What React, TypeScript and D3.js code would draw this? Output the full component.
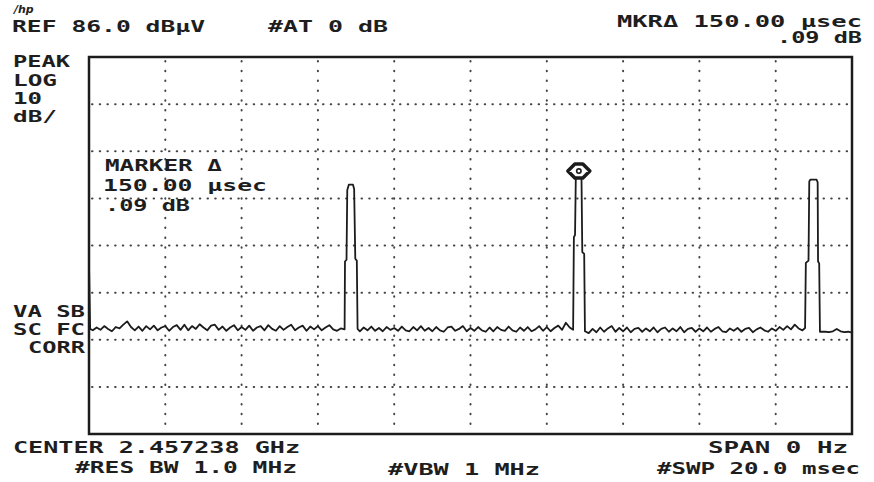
import * as d3 from 'd3'
import * as React from 'react'

//------------------------------data------------------------------
const W = 874
const H = 482
const REF_LEVEL = 86 // dBµV, top of screen
const DB_PER_DIV = 10
const SWEEP_MS = 20
const SAMPLE_MS = 0.1

const gridLevels = [76, 66, 56, 46, 36, 26, 16]
const gridTimes = [2, 4, 6, 8, 10, 12, 14, 16, 18]

// noise floor read every 0.1 ms across the 20 ms sweep (dBµV)
const noiseLevel = [
  42.0, 28.0, 28.6, 28.1, 28.9, 28.3, 27.8, 28.7, 28.4, 29.2,
  29.9, 28.7, 28.0, 28.8, 27.9, 28.9, 28.2, 29.0, 28.0, 28.6,
  28.9, 27.9, 28.7, 29.1, 28.1, 29.2, 28.0, 28.9, 28.3, 29.3,
  28.6, 28.0, 29.0, 29.2, 28.1, 28.8, 27.9, 28.6, 29.1, 28.0,
  28.7, 28.1, 29.0, 27.9, 28.6, 28.9, 28.0, 29.1, 28.3, 27.9,
  28.9, 28.1, 28.7, 29.2, 28.0, 28.6, 29.0, 27.9, 28.8, 28.2,
  28.9, 28.0, 28.6, 29.1, 28.2, 27.9, 28.4, 28.0, 28.0, 28.0,
  28.0, 27.8, 28.6, 28.0, 28.8, 27.9, 28.5, 27.8, 28.7, 28.1,
  28.5, 27.9, 28.8, 28.0, 27.8, 28.7, 28.0, 28.9, 27.9, 28.5,
  27.8, 28.7, 28.0, 27.7, 28.6, 28.8, 27.9, 28.3, 28.9, 27.8,
  28.5, 27.9, 28.7, 28.0, 27.7, 28.6, 27.8, 28.7, 28.1, 27.9,
  28.8, 28.0, 27.7, 28.6, 27.9, 28.7, 27.8, 28.2, 28.9, 27.9,
  28.7, 27.8, 28.5, 29.0, 28.1, 29.6, 28.6, 28.0, 28.0, 28.0,
  28.0, 27.4, 28.3, 27.6, 28.6, 27.7, 28.4, 28.9, 27.7, 28.5,
  27.8, 28.6, 27.6, 28.3, 28.5, 27.7, 28.4, 27.8, 28.6, 27.6,
  28.3, 28.6, 27.7, 28.4, 27.8, 28.7, 27.6, 28.3, 28.5, 27.7,
  28.4, 27.8, 28.6, 27.7, 28.3, 28.7, 27.8, 27.6, 28.4, 27.9,
  28.5, 27.7, 28.3, 28.5, 27.6, 28.2, 28.6, 28.0, 27.7, 28.4,
  27.9, 28.7, 28.1, 28.9, 28.2, 29.2, 28.4, 28.0, 28.0, 28.0,
  28.0, 28.0, 27.7, 27.7, 27.6, 27.8, 28.3, 27.8, 27.6, 27.7,
  27.5
]

// trace start and pulse outlines [ms, dBµV]
const sweepStart = [[0.0, 42.0], [0.03, 28.3]]
const pulse1 = [
  [6.70, 28.2], [6.71, 42.6], [6.75, 43.0], [6.77, 57.8], [6.81, 58.9],
  [6.92, 58.9], [6.95, 58.0], [6.98, 43.2], [7.02, 42.8], [7.04, 28.3]
]
const pulse2 = [
  [12.69, 28.1], [12.71, 47.8], [12.74, 48.2], [12.76, 60.2], [12.80, 61.2],
  [12.88, 61.2], [12.91, 60.0], [12.93, 44.6], [12.98, 44.2], [13.00, 27.8]
]
const pulse3 = [
  [18.77, 28.5], [18.79, 42.3], [18.86, 42.8], [18.88, 59.6], [18.91, 60.0],
  [19.07, 60.0], [19.10, 59.4], [19.11, 42.6], [19.14, 42.2], [19.16, 27.7]
]
const pulses = [sweepStart, pulse1, pulse2, pulse3]

const marker = { ms: 12.84, level: 61.8 }

const headerLeft = ['REF 86.0 dBµV', '#AT 0 dB']
const headerRight = ['MKRΔ 150.00 µsec', '.09 dB']
const modeLabels = ['PEAK', 'LOG', '10', 'dB/']
const markerLabels = ['MARKER Δ', '150.00 µsec', '.09 dB']
const statusLabels = ['VA SB', 'SC FC', 'CORR']
const footerLabels = ['CENTER 2.457238 GHz', '#RES BW 1.0 MHz', '#VBW 1 MHz', 'SPAN 0 Hz', '#SWP 20.0 msec']

//------------------------------trace------------------------------
const buildTrace = () => {
  const inPulse = (t: number) =>
    pulses.some(p => t >= p[0][0] - 0.02 && t <= p[p.length - 1][0] + 0.02)
  const pts: [number, number][] = noiseLevel
    .map((v, i) => [i * SAMPLE_MS, v] as [number, number])
    .filter(d => !inPulse(d[0]))
  pulses.forEach(p => p.forEach(d => pts.push([d[0], d[1]])))
  return pts.sort((a, b) => a[0] - b[0])
}

//------------------------------Component------------------------------
export default function App() {
  const left = 89
  const right = 852
  const top = 57
  const bottom = 434

  const x = d3.scaleLinear().domain([0, SWEEP_MS]).range([left, right])
  const y = d3
    .scaleLinear()
    .domain([REF_LEVEL - 8 * DB_PER_DIV, REF_LEVEL])
    .range([bottom, top])

  const trace = buildTrace()
  const line = d3
    .line<[number, number]>()
    .x(d => x(d[0]))
    .y(d => y(d[1]))

  const mx = x(marker.ms)
  const my = y(marker.level)

  const font = {
    fontFamily: '"DejaVu Sans Mono", monospace',
    fontSize: 15,
    fontWeight: 'bold' as const,
    fill: '#1e1e1e'
  }

  const label = (t: string, tx: number, ty: number, len: number, key: string) => (
    <text key={key} x={tx} y={ty} textLength={len} lengthAdjust="spacingAndGlyphs" {...font}>
      {t}
    </text>
  )

  return (
    <svg
      width={W}
      height={H}
      style={{ position: 'absolute', left: 0, top: 0, background: '#fff' }}
    >
      <rect x={0} y={0} width={W} height={H} fill="#fff" />
      {/* hp logo */}
      <text x={14} y={13} fontFamily="DejaVu Sans" fontStyle="italic" fontWeight="bold" fontSize={11} fill="#222">
        /hp
      </text>

      {label(headerLeft[0], 12, 32, 193, 'h0')}
      {label(headerLeft[1], 268, 32, 120, 'h1')}
      {label(headerRight[0], 617, 27, 245, 'r0')}
      {label(headerRight[1], 777, 43, 85, 'r1')}

      {label(modeLabels[0], 13, 67, 57, 'm0')}
      {label(modeLabels[1], 13, 86, 44, 'm1')}
      {label(modeLabels[2], 13, 104, 29, 'm2')}
      {label(modeLabels[3], 13, 122, 44, 'm3')}

      {label(statusLabels[0], 13, 317, 72, 's0')}
      {label(statusLabels[1], 13, 335, 72, 's1')}
      {label(statusLabels[2], 28, 353, 57, 's2')}

      {label(footerLabels[0], 13, 453, 287, 'f0')}
      {label(footerLabels[1], 75, 473, 222, 'f1')}
      {label(footerLabels[2], 388, 475, 152, 'f2')}
      {label(footerLabels[3], 708, 453, 140, 'f3')}
      {label(footerLabels[4], 657, 474, 203, 'f4')}

      {/* grid */}
      <g stroke="#444" strokeWidth={2} strokeLinecap="round">
        {gridLevels.map(v => (
          <line key={'gy' + v} x1={left + 3} x2={right - 3} y1={y(v)} y2={y(v)} strokeDasharray="0.5 7.2" />
        ))}
        {gridTimes.map(t => (
          <line key={'gx' + t} x1={x(t)} x2={x(t)} y1={top + 4} y2={bottom - 3} strokeDasharray="0.5 9.3" />
        ))}
      </g>

      {/* frame */}
      <rect
        x={left}
        y={top}
        width={right - left}
        height={bottom - top}
        fill="none"
        stroke="#1c1c1c"
        strokeWidth={2.5}
      />

      {label(markerLabels[0], 105, 171, 117, 'k0')}
      {label(markerLabels[1], 103, 191, 164, 'k1')}
      {label(markerLabels[2], 105, 211, 85, 'k2')}

      {/* trace */}
      <path d={line(trace) || ''} fill="none" stroke="#1c1c1c" strokeWidth={1.8} strokeLinejoin="round" />

      {/* marker */}
      <path
        d={`M${mx - 11},${my} L${mx - 4},${my - 7} L${mx + 4},${my - 7} L${mx + 11},${my} L${mx + 4},${my + 7} L${mx - 4},${my + 7} Z`}
        fill="#fff"
        stroke="#1c1c1c"
        strokeWidth={3.5}
        strokeLinejoin="round"
      />
      <circle cx={mx} cy={my} r={2.2} fill="none" stroke="#1c1c1c" strokeWidth={1.6} />
    </svg>
  )
}
